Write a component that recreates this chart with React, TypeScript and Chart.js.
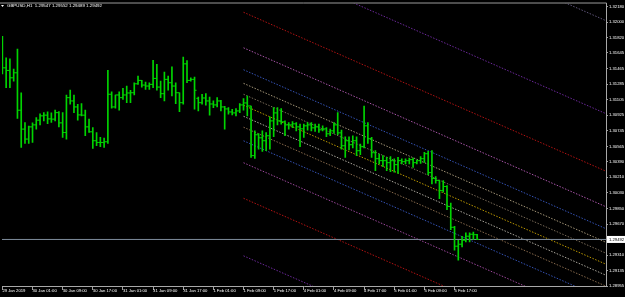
import React, { useEffect, useRef } from 'react';
import { Chart, registerables } from 'chart.js';

Chart.register(...registerables);

const headerText = 'GBPUSD,H1  1.29547 1.29552 1.29489 1.29492';

const timeLabels = [
  '29 Jan 2019', '30 Jan 01:00', '30 Jan 09:00', '30 Jan 17:00',
  '31 Jan 01:00', '31 Jan 09:00', '31 Jan 17:00', '1 Feb 01:00',
  '1 Feb 09:00', '1 Feb 17:00', '4 Feb 01:00', '4 Feb 09:00',
  '4 Feb 17:00', '5 Feb 01:00', '5 Feb 09:00', '5 Feb 17:00',
];
const labelBars = [0, 8, 16, 24, 32, 40, 48, 56, 64, 72, 80, 88, 96, 104, 112, 120];

const yTickValues = [
  1.32180, 1.32000, 1.31820, 1.31645, 1.31465, 1.31285, 1.31105, 1.30925, 1.30745,
  1.30565, 1.30390, 1.30210, 1.30030, 1.29850, 1.29670, 1.29310, 1.29135, 1.28955,
];

const opens = [
  1.31721, 1.31472, 1.31442, 1.31357, 1.31415, 1.30983, 1.30765, 1.30650, 1.30791, 1.30814,
  1.30868, 1.30918, 1.30926, 1.30883, 1.30880, 1.30955, 1.30837, 1.30726, 1.31128, 1.31090,
  1.31021, 1.30929, 1.30926, 1.30791, 1.30734, 1.30631, 1.30611, 1.30611, 1.30619, 1.31167,
  1.31021, 1.31159, 1.31128, 1.31159, 1.31182, 1.31185, 1.31288, 1.31327, 1.31273, 1.31262,
  1.31281, 1.31350, 1.31250, 1.31174, 1.31339, 1.31300, 1.31262, 1.31185, 1.31070, 1.31518,
  1.31327, 1.31339, 1.31120, 1.31070, 1.31124, 1.31090, 1.31055, 1.31044, 1.31090, 1.31021,
  1.30998, 1.30963, 1.30952, 1.30975, 1.31044, 1.31067, 1.31032, 1.30459, 1.30700, 1.30665,
  1.30631, 1.30688, 1.30860, 1.30952, 1.30860, 1.30849, 1.30814, 1.30814, 1.30826, 1.30791,
  1.30768, 1.30803, 1.30814, 1.30780, 1.30791, 1.30757, 1.30768, 1.30711, 1.30745, 1.30814,
  1.30722, 1.30573, 1.30631, 1.30585, 1.30631, 1.30516, 1.30562, 1.30803, 1.30654, 1.30493,
  1.30424, 1.30401, 1.30401, 1.30378, 1.30401, 1.30355, 1.30401, 1.30390, 1.30401, 1.30413,
  1.30378, 1.30401, 1.30424, 1.30481, 1.30263, 1.30195, 1.30172, 1.30057, 1.30103, 1.29873,
  1.29632, 1.29414, 1.29437, 1.29483, 1.29529, 1.29552, 1.29547,
];
const highs = [
  1.31836, 1.31587, 1.31575, 1.31457, 1.31687, 1.31185, 1.30841, 1.30800, 1.30837, 1.30898,
  1.30941, 1.30955, 1.30963, 1.30952, 1.30986, 1.30967, 1.30955, 1.31159, 1.31216, 1.31159,
  1.31052, 1.31059, 1.30986, 1.30880, 1.30783, 1.30726, 1.30669, 1.30662, 1.31442, 1.31196,
  1.31159, 1.31196, 1.31236, 1.31262, 1.31213, 1.31300, 1.31377, 1.31327, 1.31308, 1.31300,
  1.31560, 1.31511, 1.31319, 1.31423, 1.31377, 1.31483, 1.31300, 1.31185, 1.31595, 1.31557,
  1.31357, 1.31365, 1.31136, 1.31167, 1.31174, 1.31136, 1.31090, 1.31128, 1.31098, 1.31029,
  1.31013, 1.30994, 1.31001, 1.31059, 1.31116, 1.31147, 1.31032, 1.30745, 1.30714, 1.30745,
  1.30726, 1.30906, 1.31013, 1.31013, 1.31001, 1.30860, 1.30841, 1.30852, 1.30841, 1.30822,
  1.30822, 1.30841, 1.30841, 1.30822, 1.30822, 1.30803, 1.30783, 1.30765, 1.30841, 1.30955,
  1.30753, 1.30677, 1.30677, 1.30688, 1.30677, 1.30593, 1.31032, 1.30841, 1.30669, 1.30516,
  1.30478, 1.30459, 1.30439, 1.30447, 1.30421, 1.30439, 1.30421, 1.30421, 1.30432, 1.30432,
  1.30409, 1.30447, 1.30496, 1.30508, 1.30516, 1.30217, 1.30172, 1.30172, 1.30114, 1.29911,
  1.29644, 1.29483, 1.29529, 1.29567, 1.29567, 1.29578, 1.29552,
];
const lows = [
  1.31403, 1.31242, 1.31242, 1.31319, 1.30887, 1.30554, 1.30600, 1.30600, 1.30611, 1.30765,
  1.30814, 1.30860, 1.30829, 1.30841, 1.30860, 1.30791, 1.30669, 1.30650, 1.31052, 1.30955,
  1.30868, 1.30918, 1.30688, 1.30726, 1.30542, 1.30573, 1.30562, 1.30554, 1.30600, 1.31006,
  1.31006, 1.30983, 1.31109, 1.31070, 1.31070, 1.31159, 1.31281, 1.31250, 1.31224, 1.31224,
  1.31242, 1.31213, 1.31128, 1.31090, 1.31213, 1.31147, 1.31059, 1.30967, 1.31052, 1.31300,
  1.31319, 1.30994, 1.30975, 1.31052, 1.31040, 1.30926, 1.31013, 1.31021, 1.30975, 1.30765,
  1.30937, 1.30929, 1.30918, 1.30955, 1.30983, 1.30918, 1.30439, 1.30428, 1.30535, 1.30508,
  1.30516, 1.30535, 1.30677, 1.30814, 1.30822, 1.30688, 1.30765, 1.30783, 1.30745, 1.30562,
  1.30669, 1.30753, 1.30745, 1.30737, 1.30726, 1.30745, 1.30677, 1.30688, 1.30714, 1.30700,
  1.30535, 1.30439, 1.30524, 1.30547, 1.30459, 1.30470, 1.30547, 1.30600, 1.30439, 1.30286,
  1.30363, 1.30332, 1.30286, 1.30275, 1.30267, 1.30255, 1.30363, 1.30363, 1.30363, 1.30324,
  1.30363, 1.30370, 1.30382, 1.30240, 1.30134, 1.30141, 1.29962, 1.30037, 1.29835, 1.29606,
  1.29368, 1.29253, 1.29406, 1.29463, 1.29463, 1.29491, 1.29489,
];
const closes = [
  1.31472, 1.31442, 1.31357, 1.31415, 1.30983, 1.30765, 1.30650, 1.30791, 1.30814, 1.30868,
  1.30918, 1.30926, 1.30883, 1.30880, 1.30955, 1.30837, 1.30726, 1.31128, 1.31090, 1.31021,
  1.30929, 1.30926, 1.30791, 1.30734, 1.30631, 1.30611, 1.30611, 1.30619, 1.31167, 1.31021,
  1.31159, 1.31128, 1.31159, 1.31182, 1.31185, 1.31288, 1.31327, 1.31273, 1.31262, 1.31281,
  1.31350, 1.31250, 1.31174, 1.31339, 1.31300, 1.31262, 1.31185, 1.31070, 1.31518, 1.31327,
  1.31339, 1.31213, 1.31070, 1.31124, 1.31090, 1.31055, 1.31044, 1.31090, 1.31021, 1.30998,
  1.30963, 1.30952, 1.30975, 1.31044, 1.31067, 1.31032, 1.30459, 1.30700, 1.30665, 1.30631,
  1.30688, 1.30860, 1.30952, 1.30860, 1.30849, 1.30814, 1.30814, 1.30826, 1.30791, 1.30768,
  1.30803, 1.30814, 1.30780, 1.30791, 1.30757, 1.30768, 1.30711, 1.30745, 1.30814, 1.30722,
  1.30573, 1.30631, 1.30585, 1.30631, 1.30516, 1.30562, 1.30803, 1.30654, 1.30493, 1.30424,
  1.30401, 1.30401, 1.30378, 1.30401, 1.30355, 1.30401, 1.30390, 1.30401, 1.30413, 1.30378,
  1.30401, 1.30424, 1.30481, 1.30263, 1.30195, 1.30172, 1.30057, 1.30103, 1.29873, 1.29632,
  1.29414, 1.29437, 1.29483, 1.29529, 1.29552, 1.29547, 1.29492,
];

// Fibonacci channel: levels, start (bar 64) and end (right edge) prices
const channelLevels = [2.618, 1.618, 1, 0.618, 0.382, 0.236, 0.118, 0, -0.118, -0.236, -0.382, -0.618, -1, -1.618, -2.618];
const channelStartBar = 64;
const channelEndBar = 160.2;
const channelStartValues = [
  1.33850, 1.32777, 1.32113, 1.31703, 1.31450, 1.31293, 1.31167, 1.31040,
  1.30913, 1.30787, 1.30630, 1.30377, 1.29967, 1.29303, 1.28230,
];
const channelEndValues = [
  1.32016, 1.30943, 1.30279, 1.29869, 1.29616, 1.29459, 1.29333, 1.29206,
  1.29079, 1.28953, 1.28796, 1.28543, 1.28133, 1.27469, 1.26396,
];
const channelColors = [
  '#5e5478', '#6a2898', '#b01212', '#a854a8', '#3452b4', '#a49678', '#786a58', '#bc9800',
  '#aaa69c', '#86694c', '#3452b4', '#9a469a', '#b01212', '#6a2898', '#5e5478',
];

const currentPrice = 1.29492;
const xMin = -0.1;
const xMax = 160.2;
const yMin = 1.28955;
const yMax = 1.32214;

const BAR_GREEN = '#00d400';
const FONT = 'Liberation Sans';

export default function App() {
  const canvasRef = useRef<HTMLCanvasElement | null>(null);

  useEffect(() => {
    document.body.style.margin = '0';
    document.body.style.background = '#000';
    const canvas = canvasRef.current;
    if (!canvas) return;

    const barData = highs.map((h, i) => ({ x: i, y: [lows[i], h] }));
    const openData = opens.map((o, i) => ({ x: i - 0.27, y: o }));
    const closeData = closes.map((c, i) => ({ x: i + 0.27, y: c }));

    const channelDatasets = channelLevels.map((lvl, k) => ({
      type: 'line' as const,
      label: 'Fibo ' + lvl,
      data: [
        { x: channelStartBar, y: channelStartValues[k] },
        { x: channelEndBar, y: channelEndValues[k] },
      ],
      borderColor: channelColors[k],
      borderWidth: 1,
      borderDash: [1.5, 1.5],
      pointRadius: 0,
      fill: false,
      tension: 0,
      clip: 0,
      order: 3,
    }));

    const bgPlugin = {
      id: 'mtBackground',
      beforeDraw(chart: any) {
        const ctx = chart.ctx;
        ctx.save();
        ctx.fillStyle = '#000000';
        ctx.fillRect(0, 0, chart.width, chart.height);
        ctx.restore();
      },
      afterDraw(chart: any) {
        const ctx = chart.ctx;
        const area = chart.chartArea;
        const yScale = chart.scales.y;
        ctx.save();
        ctx.strokeStyle = '#9a9a9a';
        ctx.lineWidth = 1;
        ctx.beginPath();
        ctx.moveTo(0, area.top - 0.5);
        ctx.lineTo(area.right + 0.5, area.top - 0.5);
        ctx.stroke();
        ctx.fillStyle = '#ffffff';
        ctx.beginPath();
        ctx.moveTo(1, 5);
        ctx.lineTo(4, 5);
        ctx.lineTo(2.5, 7);
        ctx.closePath();
        ctx.fill();
        ctx.font = `4.4px "${FONT}"`;
        ctx.textBaseline = 'middle';
        ctx.textAlign = 'left';
        ctx.fillText(headerText, 7, 6);
        const py = yScale.getPixelForValue(currentPrice);
        ctx.fillStyle = '#ffffff';
        ctx.fillRect(area.right + 1, py - 3.5, chart.width - area.right - 1, 7);
        ctx.fillStyle = '#000000';
        ctx.font = `4.2px "${FONT}"`;
        ctx.fillText(currentPrice.toFixed(5), area.right + 3, py + 0.3);
        ctx.restore();
      },
    };

    const chart = new Chart(canvas, {
      type: 'line',
      data: {
        datasets: [
          {
            type: 'bar',
            label: 'High-Low',
            data: barData as any,
            backgroundColor: BAR_GREEN,
            borderWidth: 0,
            barThickness: 1,
            order: 0,
          } as any,
          {
            type: 'line',
            label: 'Open',
            data: openData,
            showLine: false,
            pointStyle: 'line',
            pointRadius: 1,
            pointBorderColor: BAR_GREEN,
            pointBorderWidth: 1,
            pointHoverRadius: 1,
            order: 0,
          },
          {
            type: 'line',
            label: 'Close',
            data: closeData,
            showLine: false,
            pointStyle: 'line',
            pointRadius: 1,
            pointBorderColor: BAR_GREEN,
            pointBorderWidth: 1,
            pointHoverRadius: 1,
            order: 0,
          },
          ...channelDatasets,
          {
            type: 'line',
            label: 'Bid',
            data: [
              { x: xMin, y: currentPrice },
              { x: xMax, y: currentPrice },
            ],
            borderColor: '#7e8c9c',
            borderWidth: 1,
            pointRadius: 0,
            fill: false,
            clip: 0,
            order: 2,
          },
        ] as any,
      },
      options: {
        animation: false,
        responsive: true,
        maintainAspectRatio: false,
        devicePixelRatio: 1,
        events: [],
        layout: { padding: { top: 2, left: 0, right: 0, bottom: 0 } },
        plugins: {
          legend: { display: false },
          tooltip: { enabled: false },
          title: { display: false },
        },
        scales: {
          x: {
            type: 'linear',
            min: xMin,
            max: xMax,
            offset: false,
            afterBuildTicks: (scale: any) => {
              scale.ticks = labelBars.map((v) => ({ value: v }));
            },
            afterFit: (scale: any) => {
              scale.height = 11;
            },
            ticks: {
              autoSkip: false,
              maxRotation: 0,
              minRotation: 0,
              align: 'start',
              padding: -2,
              color: '#ffffff',
              font: { family: FONT, size: 4.2 },
              callback: (_v: any, idx: number) => timeLabels[idx] ?? '',
            },
            grid: {
              display: true,
              drawOnChartArea: false,
              drawTicks: true,
              tickLength: 4,
              color: '#a0a0a0',
              offset: false,
            },
            border: { display: true, color: '#a8a8a8', width: 1 },
          },
          y: {
            type: 'linear',
            position: 'right',
            min: yMin,
            max: yMax,
            afterBuildTicks: (scale: any) => {
              scale.ticks = yTickValues.map((v) => ({ value: v }));
            },
            afterFit: (scale: any) => {
              scale.width = 19;
            },
            ticks: {
              padding: 1,
              color: '#ffffff',
              font: { family: FONT, size: 4.2 },
              callback: (v: any) => Number(v).toFixed(5),
            },
            grid: {
              display: true,
              drawOnChartArea: false,
              drawTicks: true,
              tickLength: 2,
              color: '#a0a0a0',
            },
            border: { display: true, color: '#a8a8a8', width: 1 },
          },
        },
      } as any,
      plugins: [bgPlugin],
    });

    return () => {
      chart.destroy();
    };
  }, []);

  return (
    <div style={{ width: 625, height: 297, position: 'relative', background: '#000' }}>
      <canvas ref={canvasRef} />
    </div>
  );
}
